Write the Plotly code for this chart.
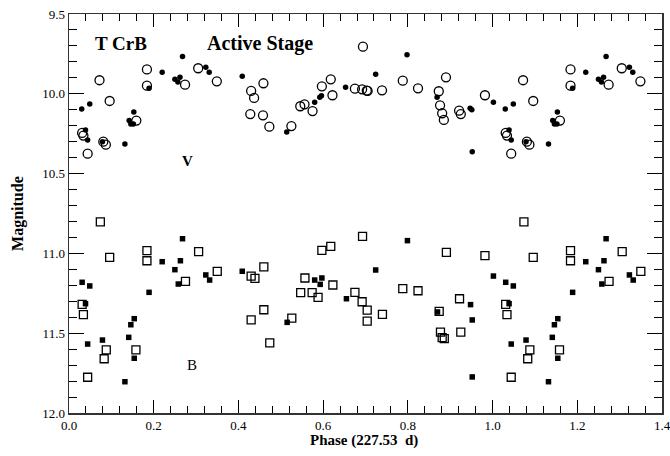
import plotly.graph_objects as go

# V band, filled circles (phase, magnitude)
v_fill_phase = [0.030, 0.049, 0.039, 0.044, 0.079, 0.132, 0.142, 0.146, 0.152, 0.153,
                0.189, 0.220, 0.250, 0.257, 0.262, 0.268, 0.323, 0.331, 0.409,
                0.514, 0.580, 0.592, 0.596, 0.653, 0.724, 0.798, 0.869, 0.947, 0.951, 0.952, 1.002]
v_fill_mag = [10.095, 10.064, 10.227, 10.290, 10.300, 10.315, 10.168, 10.190, 10.190, 10.114,
              9.966, 9.865, 9.909, 9.926, 9.897, 9.767, 9.834, 9.865, 9.890,
              10.239, 10.053, 10.022, 10.012, 9.959, 9.878, 9.755, 10.022, 10.091, 10.100, 10.363, 10.053]

# V band, open circles
v_open_phase = [0.072, 0.096, 0.031, 0.034, 0.044, 0.081, 0.087, 0.159, 0.184, 0.184,
                0.274, 0.305, 0.349, 0.430, 0.437, 0.459, 0.428, 0.458, 0.473,
                0.525, 0.546, 0.556, 0.575, 0.597, 0.618, 0.622, 0.675, 0.692, 0.703, 0.705,
                0.694, 0.739, 0.788, 0.824, 0.873, 0.890, 0.876, 0.881, 0.885, 0.921, 0.925, 0.982]
v_open_mag = [9.915, 10.045, 10.245, 10.262, 10.375, 10.300, 10.319, 10.168, 9.847, 9.949,
              9.943, 9.840, 9.922, 9.982, 10.026, 9.934, 10.127, 10.135, 10.206,
              10.202, 10.078, 10.066, 10.108, 9.953, 9.909, 10.009, 9.968, 9.972, 9.980, 9.982,
              9.705, 9.978, 9.918, 9.966, 9.984, 9.897, 10.072, 10.122, 10.164, 10.106, 10.127, 10.009]

# B band, filled squares
b_fill_phase = [0.031, 0.049, 0.039, 0.044, 0.079, 0.132, 0.141, 0.146, 0.154, 0.154,
                0.189, 0.220, 0.250, 0.258, 0.263, 0.268, 0.323, 0.332, 0.409,
                0.515, 0.580, 0.597, 0.593, 0.655, 0.724, 0.799, 0.870, 0.948, 0.952, 0.952, 1.002]
b_fill_mag = [11.181, 11.204, 11.315, 11.568, 11.543, 11.804, 11.526, 11.447, 11.409, 11.657,
              11.244, 11.052, 11.102, 11.192, 11.046, 10.908, 11.135, 11.167, 11.112,
              11.432, 11.167, 11.154, 11.194, 11.284, 11.104, 10.920, 11.367, 11.321, 11.417, 11.774, 11.142]

# B band, open squares
b_open_phase = [0.074, 0.096, 0.184, 0.184, 0.306, 0.350, 0.275, 0.031, 0.034, 0.044,
                0.083, 0.088, 0.158, 0.430, 0.439, 0.460, 0.460, 0.430, 0.474,
                0.693, 0.597, 0.618, 0.557, 0.547, 0.574, 0.588, 0.623, 0.675, 0.692, 0.704,
                0.704, 0.740, 0.526, 0.788, 0.824, 0.874, 0.891, 0.877, 0.881, 0.886, 0.922, 0.925, 0.982]
b_open_mag = [10.803, 11.025, 10.983, 11.046, 10.989, 11.112, 11.175, 11.319, 11.384, 11.776,
              11.660, 11.605, 11.605, 11.143, 11.156, 11.085, 11.353, 11.417, 11.561,
              10.893, 10.981, 10.956, 11.154, 11.246, 11.246, 11.275, 11.198, 11.244, 11.303, 11.355,
              11.424, 11.382, 11.405, 11.221, 11.234, 11.363, 10.993, 11.493, 11.528, 11.534, 11.284, 11.493, 11.014]

WRAP_LIMIT = 0.4


def extend(phase, mag):
    """Repeat points with phase < WRAP_LIMIT one cycle later (phase + 1)."""
    p = list(phase) + [x + 1 for x in phase if x < WRAP_LIMIT]
    m = list(mag) + [y for x, y in zip(phase, mag) if x < WRAP_LIMIT]
    return p, m


series = [
    (v_fill_phase, v_fill_mag, dict(symbol="circle", size=5.5, color="black")),
    (v_open_phase, v_open_mag, dict(symbol="circle-open", size=9, color="black", line=dict(width=1.3))),
    (b_fill_phase, b_fill_mag, dict(symbol="square", size=5.5, color="black")),
    (b_open_phase, b_open_mag, dict(symbol="square-open", size=8, color="black", line=dict(width=1.3))),
]

fig = go.Figure()
for ph, mg, mk in series:
    xp, ym = extend(ph, mg)
    fig.add_trace(go.Scatter(x=xp, y=ym, mode="markers", marker=mk, showlegend=False,
                             hoverinfo="skip", cliponaxis=False))

serif = "Liberation Serif"

axis_common = dict(
    showgrid=False, zeroline=False, showline=True, linecolor="#333333", linewidth=1.5,
    ticks="inside", tickcolor="black", tickwidth=1, mirror="ticks", automargin=False,
    ticklabeloverflow="allow",
    tickfont=dict(family=serif, size=13, color="black"),
)

fig.update_xaxes(range=[0, 1.4], dtick=0.2, tick0=0, ticklen=13, tickformat=".1f",
                 minor=dict(dtick=0.04, ticklen=7, ticks="inside", tickcolor="black"),
                 **axis_common)
fig.update_yaxes(range=[12.0, 9.5], dtick=0.5, tick0=9.5, ticklen=15, tickformat=".1f",
                 minor=dict(dtick=0.1, ticklen=8, ticks="inside", tickcolor="black"),
                 **axis_common)

# paper coords: plot area spans x 69..662 px, y 14..413 px of the window
annots = [
    dict(text="<b>T CrB</b>", x=0.040, y=0.925, xanchor="left", yanchor="middle", size=19, angle=0),
    dict(text="<b>Active Stage</b>", x=0.229, y=0.925, xanchor="left", yanchor="middle", size=20, angle=0),
    dict(text="<b>V</b>", x=0.199, y=0.632, xanchor="center", yanchor="middle", size=15, angle=0),
    dict(text="B", x=0.207, y=0.12, xanchor="center", yanchor="middle", size=15, angle=0),
    dict(text="<b>Phase (227.53  d)</b>", x=0.498, y=-0.07, xanchor="center", yanchor="middle", size=15, angle=0),
    dict(text="<b>Magnitude</b>", x=-0.087, y=0.50, xanchor="center", yanchor="middle", size=16, angle=-90),
]
for a in annots:
    fig.add_annotation(text=a["text"], x=a["x"], y=a["y"], xref="paper", yref="paper",
                       xanchor=a["xanchor"], yanchor=a["yanchor"], showarrow=False,
                       textangle=a["angle"],
                       font=dict(family=serif, size=a["size"], color="black"))

fig.update_layout(
    width=670, height=456,
    margin=dict(l=69, r=8, t=14, b=43),
    paper_bgcolor="white", plot_bgcolor="white",
    hovermode=False,
)

# remove the default page margin so the 670x456 figure fills the window exactly
fig.write_html("out.html",
               config={"displayModeBar": False, "staticPlot": True},
               post_script="document.body.style.margin='0';document.body.style.overflow='hidden';")
